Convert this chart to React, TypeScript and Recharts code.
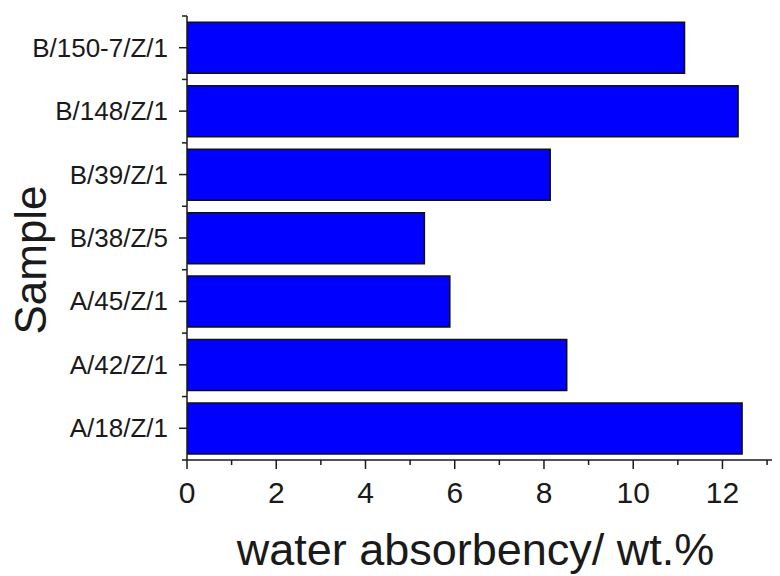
import { BarChart, Bar, XAxis, YAxis } from 'recharts';

// サンプル名（上から下の順）
const SAMPLES = ['B/150-7/Z/1', 'B/148/Z/1', 'B/39/Z/1', 'B/38/Z/5', 'A/45/Z/1', 'A/42/Z/1', 'A/18/Z/1'];
// 吸水率 (wt.%)
const ABSORBENCY = [11.15, 12.35, 8.14, 5.32, 5.89, 8.51, 12.44];
// x軸の目盛り（偶数はラベル付き）
const X_TICKS = [0, 1, 2, 3, 4, 5, 6, 7, 8, 9, 10, 11, 12, 13];

const data = SAMPLES.map((name, i) => ({ name, value: ABSORBENCY[i] }));

const W = 780;
const H = 576;
const MARGIN = { top: 16, right: 4, bottom: 0, left: 8 };
const Y_AXIS_W = 179;
const X_AXIS_H = 116;
const PLOT_H = H - MARGIN.top - X_AXIS_H;
const BAND = PLOT_H / SAMPLES.length;
const FONT = '"Liberation Sans", Arial, sans-serif';
const INK = '#1a1a1a';

const XTick = (props: any) => {
  const { x, y, payload } = props;
  const major = payload.value % 2 === 0;
  return (
    <g>
      <line x1={x} x2={x} y1={y} y2={y + (major ? 9 : 5)} stroke={INK} strokeWidth={1.5} />
      {major && (
        <text x={x} y={y + 43} textAnchor="middle" fontSize={30} fontFamily={FONT} fill={INK}>
          {payload.value}
        </text>
      )}
    </g>
  );
};

const YTick = (props: any) => {
  const { x, y, payload, index, visibleTicksCount } = props;
  const last = index === visibleTicksCount - 1;
  return (
    <g>
      <line x1={x - 8} x2={x} y1={y} y2={y} stroke={INK} strokeWidth={1.5} />
      <line x1={x - 5} x2={x} y1={y - BAND / 2} y2={y - BAND / 2} stroke={INK} strokeWidth={1.5} />
      {last && <line x1={x - 5} x2={x} y1={y + BAND / 2} y2={y + BAND / 2} stroke={INK} strokeWidth={1.5} />}
      <text x={x - 19} y={y + 9} textAnchor="end" fontSize={26} fontFamily={FONT} fill={INK}>
        {payload.value}
      </text>
    </g>
  );
};

export default function App() {
  return (
    <div style={{ width: W, height: H, margin: '-8px 0 0 -8px', background: '#fff' }}>
      <BarChart
        width={W}
        height={H}
        data={data}
        layout="vertical"
        margin={MARGIN}
        barCategoryGap="10%"
      >
        <XAxis
          type="number"
          domain={[0, 13.2]}
          ticks={X_TICKS}
          interval={0}
          allowDataOverflow
          height={X_AXIS_H}
          tickSize={0}
          tickMargin={0}
          tickLine={false}
          tick={<XTick />}
          axisLine={{ stroke: INK, strokeWidth: 1.5 }}
          label={{
            content: (p: any) => {
              const vb = p.viewBox;
              return (
                <text
                  x={vb.x + vb.width / 2 - 6}
                  y={vb.y + 105}
                  textAnchor="middle"
                  fontSize={45}
                  fontFamily={FONT}
                  fill={INK}
                >
                  water absorbency/ wt.%
                </text>
              );
            },
          }}
        />
        <YAxis
          type="category"
          dataKey="name"
          width={Y_AXIS_W}
          interval={0}
          tickSize={0}
          tickMargin={0}
          tickLine={false}
          tick={<YTick />}
          axisLine={{ stroke: INK, strokeWidth: 1.5 }}
          label={{
            content: (p: any) => {
              const vb = p.viewBox;
              const cy = vb.y + vb.height / 2 + 22;
              return (
                <text
                  x={46}
                  y={cy}
                  transform={`rotate(-90 46 ${cy})`}
                  textAnchor="middle"
                  fontSize={44}
                  fontFamily={FONT}
                  fill={INK}
                >
                  Sample
                </text>
              );
            },
          }}
        />
        <Bar dataKey="value" fill="#0000FF" stroke="#111" strokeWidth={1.5} isAnimationActive={false} />
      </BarChart>
    </div>
  );
}
